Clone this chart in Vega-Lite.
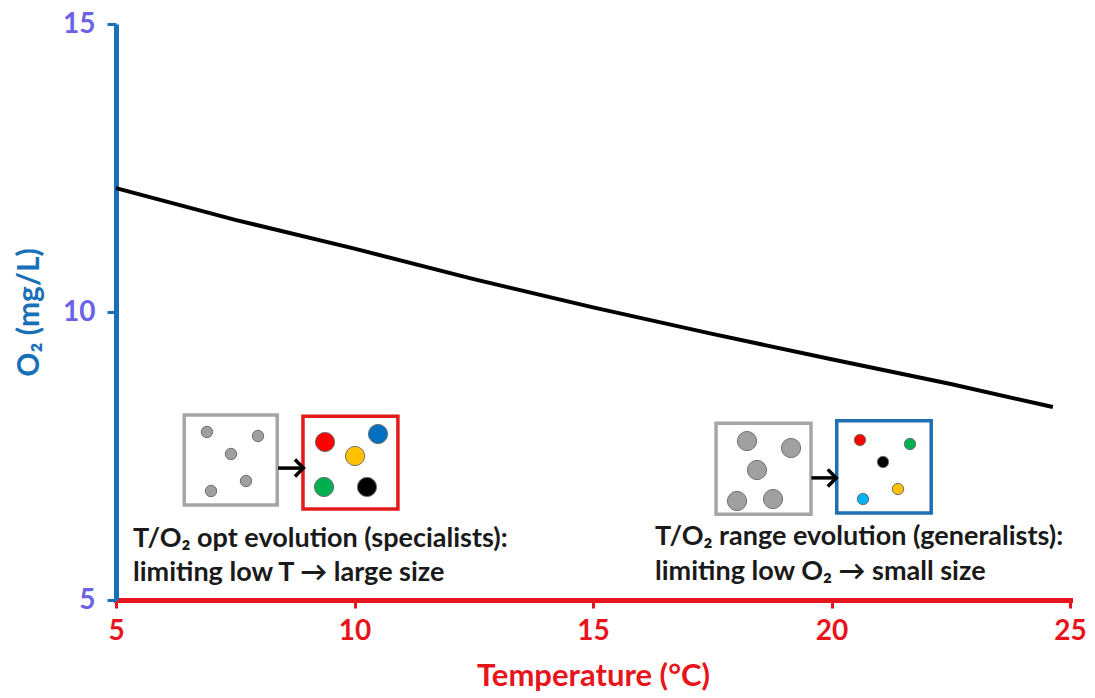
{
  "$schema": "https://vega.github.io/schema/vega-lite/v6.json",
  "width": 954,
  "height": 576,
  "autosize": {"type": "none"},
  "padding": {"left": 116, "top": 24, "right": 25, "bottom": 98},
  "background": "white",
  "config": {"view": {"stroke": null}},
  "datasets": {
    "curve": [
      {"x": 5, "y": 12.15}, {"x": 7.5, "y": 11.6}, {"x": 10, "y": 11.1},
      {"x": 12.5, "y": 10.57}, {"x": 15, "y": 10.08}, {"x": 17.5, "y": 9.62},
      {"x": 20, "y": 9.18}, {"x": 22.5, "y": 8.75}, {"x": 24.64, "y": 8.35}
    ],
    "boxes": [
      {"x": 6.43, "x2": 8.38, "y": 8.21, "y2": 6.65, "box": "before"},
      {"x": 8.92, "x2": 10.91, "y": 8.19, "y2": 6.58, "box": "specialists"},
      {"x": 17.58, "x2": 19.57, "y": 8.07, "y2": 6.49, "box": "before"},
      {"x": 20.11, "x2": 22.09, "y": 8.11, "y2": 6.51, "box": "generalists"}
    ],
    "arrows": [
      {"x": 8.40, "x2": 8.93, "y": 7.29},
      {"x": 19.58, "x2": 20.10, "y": 7.12}
    ],
    "cells": [
      {"x": 6.908, "y": 7.917, "species": "grey", "cellsize": "small"},
      {"x": 7.977, "y": 7.847, "species": "grey", "cellsize": "small"},
      {"x": 7.411, "y": 7.535, "species": "grey", "cellsize": "small"},
      {"x": 7.725, "y": 7.066, "species": "grey", "cellsize": "small"},
      {"x": 6.992, "y": 6.892, "species": "grey", "cellsize": "small"},
      {"x": 9.382, "y": 7.743, "species": "red", "cellsize": "large"},
      {"x": 10.493, "y": 7.882, "species": "blue", "cellsize": "large"},
      {"x": 10.011, "y": 7.5, "species": "yellow", "cellsize": "large"},
      {"x": 9.361, "y": 6.962, "species": "green", "cellsize": "large"},
      {"x": 10.262, "y": 6.962, "species": "black", "cellsize": "large"},
      {"x": 18.229, "y": 7.76, "species": "grey", "cellsize": "large"},
      {"x": 19.151, "y": 7.639, "species": "grey", "cellsize": "large"},
      {"x": 18.438, "y": 7.257, "species": "grey", "cellsize": "large"},
      {"x": 18.019, "y": 6.719, "species": "grey", "cellsize": "large"},
      {"x": 18.774, "y": 6.753, "species": "grey", "cellsize": "large"},
      {"x": 20.597, "y": 7.778, "species": "red", "cellsize": "small"},
      {"x": 21.646, "y": 7.708, "species": "green", "cellsize": "small"},
      {"x": 21.08, "y": 7.396, "species": "black", "cellsize": "small"},
      {"x": 21.394, "y": 6.927, "species": "yellow", "cellsize": "small"},
      {"x": 20.66, "y": 6.753, "species": "cyan", "cellsize": "small"}
    ],
    "notes": [
      {"x": 5.356, "y": 5.92, "label": "T/O₂ opt evolution (specialists):"},
      {"x": 5.356, "y": 5.33, "label": "limiting low T → large size"},
      {"x": 16.3, "y": 5.955, "label": "T/O₂ range evolution (generalists):"},
      {"x": 16.3, "y": 5.347, "label": "limiting low O₂ → small size"}
    ]
  },
  "encoding": {
    "x": {
      "field": "x", "type": "quantitative",
      "scale": {"domain": [5, 25], "nice": false, "zero": false},
      "axis": {
        "title": "Temperature (°C)", "values": [5, 10, 15, 20, 25], "grid": false,
        "domainColor": "#e8141c", "domainWidth": 5, "domainCap": "square",
        "tickColor": "#e8141c", "tickWidth": 3, "tickSize": 8,
        "labelColor": "#e8141c", "labelFont": "Lato", "labelFontSize": 28, "labelFontWeight": "bold",
        "labelPadding": 9, "labelFlush": false,
        "titleColor": "#e8141c", "titleFont": "Lato", "titleFontSize": 31, "titleFontWeight": "bold",
        "titlePadding": 16
      }
    },
    "y": {
      "field": "y", "type": "quantitative",
      "scale": {"domain": [5, 15], "nice": false, "zero": false},
      "axis": {
        "title": "O₂ (mg/L)", "values": [5, 10, 15], "grid": false,
        "domainColor": "#1a70b8", "domainWidth": 5,
        "tickColor": "#1a70b8", "tickWidth": 3, "tickSize": 9,
        "labelColor": "#6b63e6", "labelFont": "Lato", "labelFontSize": 28, "labelFontWeight": "bold",
        "labelPadding": 12, "labelFlush": false,
        "titleColor": "#1a70b8", "titleFont": "Lato", "titleFontSize": 30, "titleFontWeight": "bold",
        "titlePadding": 18
      }
    }
  },
  "layer": [
    {
      "data": {"name": "curve"},
      "mark": {"type": "line", "color": "#000000", "strokeWidth": 4}
    },
    {
      "data": {"name": "boxes"},
      "mark": {"type": "rect", "fill": "white", "strokeWidth": 3.5},
      "encoding": {
        "x2": {"field": "x2"},
        "y2": {"field": "y2"},
        "stroke": {
          "field": "box", "type": "nominal", "legend": null,
          "scale": {"domain": ["before", "specialists", "generalists"], "range": ["#a6a6a6", "#e31a1c", "#1f6fb5"]}
        }
      }
    },
    {
      "data": {"name": "arrows"},
      "mark": {"type": "rule", "color": "#000000", "strokeWidth": 3.5},
      "encoding": {"x2": {"field": "x2"}}
    },
    {
      "data": {"name": "arrows"},
      "mark": {"type": "point", "shape": "M-1,-1L0,0L-1,1", "filled": false, "stroke": "#000000", "strokeWidth": 3.5, "size": 290, "opacity": 1},
      "encoding": {"x": {"field": "x2", "type": "quantitative"}}
    },
    {
      "data": {"name": "cells"},
      "mark": {"type": "point", "shape": "circle", "filled": true, "opacity": 1, "stroke": "#707070", "strokeWidth": 1},
      "encoding": {
        "fill": {
          "field": "species", "type": "nominal", "legend": null,
          "scale": {"domain": ["grey", "red", "blue", "yellow", "green", "black", "cyan"],
                    "range": ["#a0a0a0", "#ff0000", "#0070c0", "#ffc000", "#00b050", "#000000", "#00b0f0"]}
        },
        "size": {
          "field": "cellsize", "type": "nominal", "legend": null,
          "scale": {"domain": ["small", "large"], "range": [130, 370]}
        }
      }
    },
    {
      "data": {"name": "notes"},
      "mark": {"type": "text", "align": "left", "baseline": "alphabetic", "font": "Lato", "fontSize": 27, "fontWeight": "bold", "color": "#1a1a1a"},
      "encoding": {"text": {"field": "label"}}
    }
  ]
}
